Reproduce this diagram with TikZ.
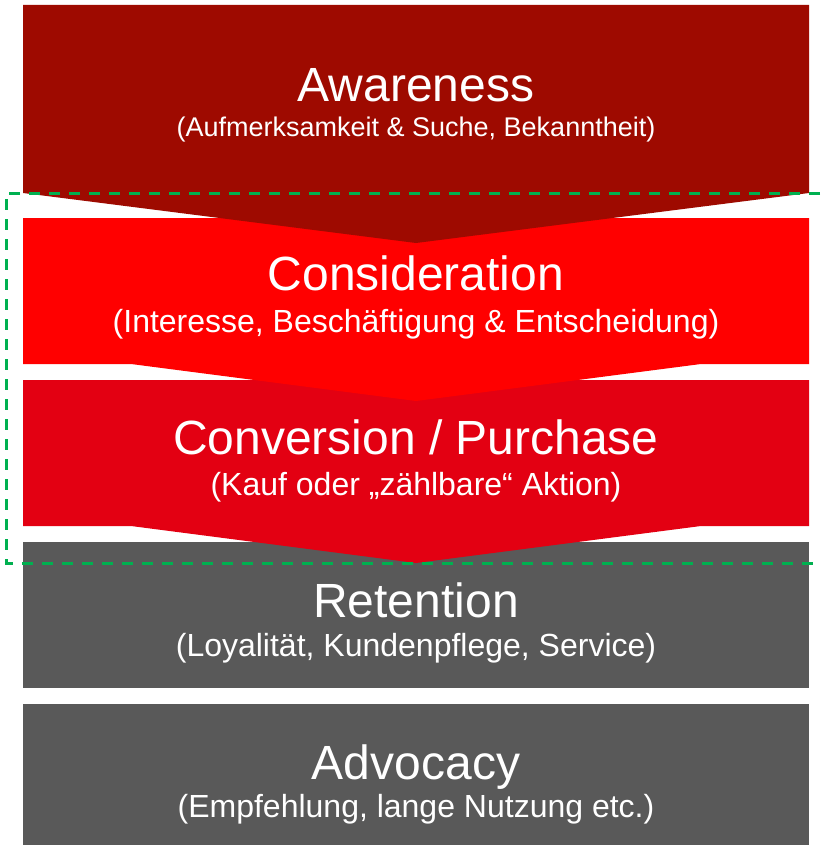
\documentclass[tikz,border=0pt]{standalone}
\usepackage{fontspec}
\setmainfont{Liberation Sans}
\definecolor{awareRed}{HTML}{9E0A00}
\definecolor{considerRed}{HTML}{FF0000}
\definecolor{convertRed}{HTML}{E30012}
\definecolor{stageGray}{HTML}{595959}
\definecolor{markGreen}{HTML}{00B050}

\begin{document}
\begin{tikzpicture}[x=1pt, y=-1pt,
    title/.style={anchor=base, text=white, inner sep=0pt, font=\fontsize{48}{56}\selectfont},
    sub/.style={anchor=base, text=white, inner sep=0pt, font=\fontsize{32}{38}\selectfont},
    bracket/.style={draw=markGreen, line width=3pt, dash pattern=on 11pt off 9pt}]
    \useasboundingbox (0,0) rectangle (823,845);

    % lower stages first, the chevrons lie on top of them
    \fill[stageGray] (23,704) rectangle (809,845);
    \fill[stageGray] (23,542) rectangle (809,688);
    \fill[convertRed] (23,380) -- (809,380) -- (809,526) -- (701,526)
        -- (416,563) -- (131,526) -- (23,526) -- cycle;
    \fill[considerRed] (23,218) -- (809,218) -- (809,364) -- (701,364)
        -- (416,401) -- (131,364) -- (23,364) -- cycle;
    \fill[awareRed] (23,5) -- (809,5) -- (809,193) -- (416,243) -- (23,193) -- cycle;

    % dashed mark round the middle stages
    \coordinate (mTR) at (820,193);
    \coordinate (mTL) at (6,193);
    \coordinate (mBL) at (6,563);
    \coordinate (mBR) at (815,563);
    \draw[bracket] (mTR) -- (mTL) -- (mBL) -- (mBR);

    \node[title] (aware) at (416,102) {Awareness};
    \node[sub, font=\fontsize{27}{32}\selectfont] (awareSub) at (416,137) {(Aufmerksamkeit \& Suche, Bekanntheit)};
    \node[title] (consider) at (416,290) {Consideration};
    \node[sub] (considerSub) at (416,332) {(Interesse, Beschäftigung \& Entscheidung)};
    \node[title] (convert) at (416,454) {Conversion / Purchase};
    \node[sub] (convertSub) at (416,495) {(Kauf oder „zählbare“ Aktion)};
    \node[title] (retain) at (416,617) {Retention};
    \node[sub] (retainSub) at (416,656) {(Loyalität, Kundenpflege, Service)};
    \node[title] (advocate) at (416,779) {Advocacy};
    \node[sub] (advocateSub) at (416,817) {(Empfehlung, lange Nutzung etc.)};
\end{tikzpicture}
\end{document}
